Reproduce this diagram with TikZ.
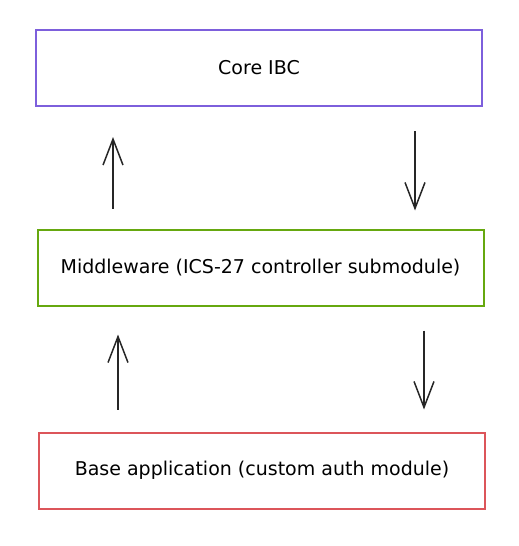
\documentclass[tikz,border=0pt]{standalone}
\usepackage{fontspec}
\setmainfont{DejaVu Sans}
\usetikzlibrary{arrows.meta, positioning, calc}

\definecolor{coreviolet}{HTML}{7D5FDC}
\definecolor{layergreen}{HTML}{66A80F}
\definecolor{basered}{HTML}{DC555A}

\begin{document}
\begin{tikzpicture}[x=1pt, y=-1pt, >={Straight Barb[length=26pt,width=20pt]}, semithick,
		layer/.style={rectangle, draw, line width=2pt, fill=white, minimum width=446pt, minimum height=76pt, font=\fontsize{19}{23}\selectfont},
		flow/.style={->, line width=1.5pt, black!85}]
		
		\useasboundingbox (0,0) rectangle (519,546);
		
		\node[layer, draw=coreviolet] (CoreIBC) at (259,68) {Core IBC};
		\node[layer, draw=layergreen] (Middleware) at (260.5,267.5) {Middleware (ICS-27 controller submodule)};
		\node[layer, draw=basered] (BaseApp) at (262,470.5) {Base application (custom auth module)};
		
		\draw[flow, shorten <=20pt, shorten >=30pt] ([xshift=-147.5pt]Middleware.north) -- ([xshift=-147.5pt]Middleware.north |- CoreIBC.south);
		\draw[flow, shorten <=24pt, shorten >=18pt] ([xshift=156pt]CoreIBC.south) -- ([xshift=156pt]CoreIBC.south |- Middleware.north);
		\draw[flow, shorten <=22pt, shorten >=28pt] ([xshift=-144pt]BaseApp.north) -- ([xshift=-144pt]BaseApp.north |- Middleware.south);
		\draw[flow, shorten <=24pt, shorten >=22pt] ([xshift=163.5pt]Middleware.south) -- ([xshift=163.5pt]Middleware.south |- BaseApp.north);
		
\end{tikzpicture}
\end{document}
